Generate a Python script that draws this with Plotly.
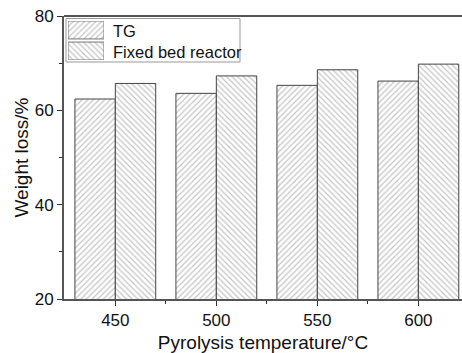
import plotly.graph_objects as go

temps = [450, 500, 550, 600]
tg = [62.4, 63.6, 65.3, 66.2]
fixed_bed = [65.7, 67.3, 68.6, 69.8]
series_names = ["TG", "Fixed bed reactor"]
shapes_hatch = ["/", "\\"]

# plot-area geometry (px) used to place the hand-made legend
W, H = 462, 353
L, T, B = 64, 16, 54
PW, PH = W - L, H - T - B


def px_x(px):
    return (px - L) / PW


def px_y(py):
    return (H - B - py) / PH


def pattern(shape):
    return dict(shape=shape, size=4, solidity=0.3, fgcolor="#8a8a8a", bgcolor="white")


edge = "#555555"
fig = go.Figure()
for name, vals, off, shp in zip(series_names, [tg, fixed_bed], [-20, 0], shapes_hatch):
    fig.add_trace(go.Bar(
        x=temps, y=vals, name=name, width=20, offset=off, base=0, showlegend=False,
        marker=dict(color="white", line=dict(color="#444444", width=1), pattern=pattern(shp)),
    ))

# legend swatches (large hatched boxes, like the original)
for i, (name, shp) in enumerate(zip(series_names, shapes_hatch)):
    fig.add_trace(go.Bar(
        x=[0.5], y=[0.92], base=[1.08 - i * 1.08], width=1, xaxis="x2", yaxis="y2",
        showlegend=False, hoverinfo="skip",
        marker=dict(color="white", line=dict(color="#777777", width=1), pattern=pattern(shp)),
    ))

font = "Liberation Sans, Arial, sans-serif"
annotations = []
for i, name in enumerate(series_names):
    annotations.append(dict(text=name, xref="paper", yref="paper",
                            x=px_x(111), y=px_y(30.5 + 21 * i), xanchor="left", yanchor="middle",
                            showarrow=False, font=dict(size=16.5, color="#111111")))

fig.update_layout(
    width=W, height=H,
    margin=dict(l=L, r=0, t=T, b=B),
    plot_bgcolor="white", paper_bgcolor="white",
    barmode="overlay",
    font=dict(family=font, size=15, color="#111111"),
    showlegend=False,
    xaxis=dict(range=[424.6, 621.6], tickvals=temps, ticks="outside", ticklen=5,
               tickwidth=1, tickcolor="#333333",
               minor=dict(tickvals=[475, 525, 575], ticks="outside", ticklen=3, tickcolor="#333333"),
               showline=True, linecolor=edge, linewidth=2, showgrid=False, zeroline=False,
               title=dict(text="Pyrolysis temperature/°C", font=dict(size=19), standoff=6),
               tickfont=dict(size=17)),
    yaxis=dict(range=[20, 80], tickvals=[20, 40, 60, 80], ticks="outside", ticklen=5,
               tickwidth=1, tickcolor="#333333",
               minor=dict(tickvals=[30, 50, 70], ticks="outside", ticklen=3, tickcolor="#333333"),
               showline=True, linecolor=edge, linewidth=2, showgrid=False, zeroline=False,
               title=dict(text="Weight loss/%", font=dict(size=19), standoff=1),
               tickfont=dict(size=17)),
    xaxis2=dict(domain=[px_x(68), px_x(104)], range=[0, 1], anchor="y2", visible=False,
                fixedrange=True),
    yaxis2=dict(domain=[px_y(60), px_y(21)], range=[0, 2], anchor="x2", visible=False,
                fixedrange=True),
    annotations=annotations,
    shapes=[
        dict(type="rect", xref="paper", yref="paper", x0=px_x(66), x1=px_x(240),
             y0=px_y(62), y1=px_y(18.5), line=dict(color="#999999", width=1),
             fillcolor="white", layer="below"),
        dict(type="line", xref="paper", yref="paper", x0=0, x1=1, y0=1, y1=1,
             line=dict(color=edge, width=2)),
    ],
)
fig.write_html("out.html")
